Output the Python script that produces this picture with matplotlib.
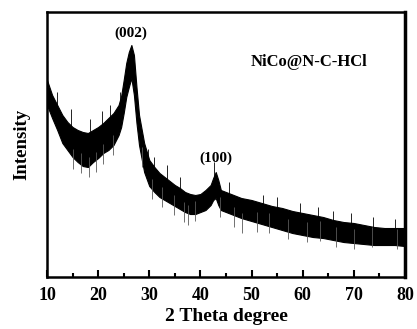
import matplotlib
matplotlib.use("Agg")
import matplotlib.pyplot as plt
from matplotlib.ticker import MultipleLocator

# XRD band (upper / lower edge of the noisy trace)
two_theta = [10, 11, 12, 13, 14, 15, 16, 17, 18, 19, 20, 21, 22, 23, 24,
             24.5, 25, 25.5, 26, 26.5, 27, 27.5, 28,
             29, 30, 31, 32, 33, 34, 35, 36, 37, 38, 39, 40, 41, 42,
             42.5, 43, 43.5, 44, 45, 46,
             48, 50, 52, 54, 56, 58, 60, 62, 64, 66, 68, 70, 72, 74, 76, 78, 80]
upper = [197, 182, 172, 162, 155, 150, 147, 145, 144, 147, 150, 154, 159, 164, 172,
         181, 197, 214, 225, 232, 222, 190, 162,
         134, 117, 110, 104, 100, 96, 92, 89, 85, 83, 82, 83, 87, 92,
         99, 105, 97, 87, 85, 83,
         79, 77, 74, 71, 69, 66, 64, 62, 60, 57, 55, 54, 52, 50, 49, 49, 49]
lower = [172, 159, 147, 134, 127, 120, 115, 111, 110, 115, 119, 124, 127, 132, 142,
         150, 164, 180, 190, 199, 182, 154, 132,
         105, 91, 85, 80, 77, 74, 71, 68, 65, 63, 63, 65, 67, 72,
         77, 79, 72, 67, 65, 63,
         59, 56, 53, 50, 47, 44, 42, 40, 39, 37, 35, 34, 33, 32, 32, 32, 31]

# noise spikes poking out of the band (position, tip)
down_x = [15.0, 16.6, 18.2, 19.5, 21.0, 23.0, 28.6, 30.5, 32.5, 34.8, 36.8, 37.5,
          39.0, 43.8, 46.5, 48.2, 51.0, 53.5, 57.2, 60.8, 63.4, 66.5, 70.0, 73.5,
          78.5, 79.8]
down_y = [108, 104, 100, 105, 113, 122, 110, 78, 70, 62, 55, 52,
          56, 60, 50, 44, 45, 44, 38, 35, 36, 30, 28, 30,
          28, 26]
up_x = [12.0, 14.6, 18.5, 20.8, 22.4, 24.2, 29.8, 31.0, 33.5, 36.0, 42.7, 45.5,
        52.3, 55.0, 59.5, 63.0, 66.0, 69.5, 73.8, 78.0]
up_y = [185, 168, 158, 166, 172, 185, 128, 120, 112, 100, 115, 95,
        82, 80, 74, 70, 66, 64, 60, 58]

peaks = ["(002)", "(100)"]
peak_pos = [26.4, 42.95]
peak_top = [237, 112]
sample = "NiCo@N-C-HCl"

plt.rcParams['font.family'] = ['Liberation Serif', 'DejaVu Serif']
plt.rcParams['font.weight'] = 'bold'

fig = plt.figure(figsize=(4.17, 3.29), dpi=100)
ax = fig.add_axes([0.1127, 0.158, 0.8583, 0.8055])

ax.fill_between(two_theta, lower, upper, color='black', linewidth=0.8,
                edgecolor='black')
ax.vlines(down_x, [y + 20 for y in down_y], down_y, color='0.35', linewidth=0.6)
ax.vlines(up_x, [y - 20 for y in up_y], up_y, color='black', linewidth=0.6)

for lab, px, py in zip(peaks, peak_pos, peak_top):
    ax.text(px, py, lab, ha='center', va='bottom', fontsize=11, fontweight='bold')
ax.text(0.732, 0.811, sample, transform=ax.transAxes, ha='center', va='center',
        fontsize=12, fontweight='bold')

ax.set_xlim(10, 80)
ax.set_ylim(0, 265)
ax.xaxis.set_major_locator(MultipleLocator(10))
ax.xaxis.set_minor_locator(MultipleLocator(5))
ax.tick_params(axis='x', which='major', direction='in', length=5, width=1.5,
               labelsize=13, pad=7)
ax.tick_params(axis='x', which='minor', direction='in', length=3, width=1.5)
ax.set_yticks([])
for lbl in ax.get_xticklabels():
    lbl.set_fontweight('bold')
for s in ax.spines.values():
    s.set_linewidth(1.8)
ax.spines['right'].set_linewidth(2.5)

ax.set_xlabel('2 Theta degree', fontsize=14, fontweight='bold', labelpad=3)
ax.set_ylabel('Intensity', fontsize=13.5, fontweight='bold', labelpad=12)

fig.savefig('out.png', dpi=100)
